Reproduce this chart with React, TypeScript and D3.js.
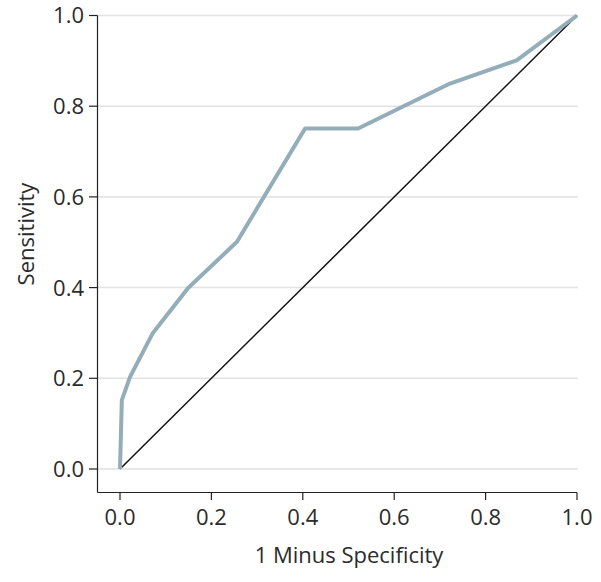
import { scaleLinear, line } from "d3";

// ROC curve, sensitivity vs 1 - specificity

const FPR = [0, 0.004, 0.022, 0.072, 0.149, 0.256, 0.405, 0.521, 0.722, 0.868, 1];
const TPR = [0, 0.152, 0.203, 0.3, 0.399, 0.501, 0.751, 0.751, 0.85, 0.901, 1];
const TICKS = [0, 0.2, 0.4, 0.6, 0.8, 1.0];
const REFERENCE = [0, 1];

const WIDTH = 601;
const HEIGHT = 582;
const FONT = "'Open Sans', sans-serif";
const TEXT_COLOR = "#2b2b2b";

const x = scaleLinear().domain([0, 1]).range([120, 577]);
const y = scaleLinear().domain([0, 1]).range([469, 15.5]);

const axisLeft = 97.5;
const axisBottom = 492.5;

const App = () => {
  const points = FPR.map((f, i) => [f, TPR[i]] as [number, number]);
  const roc = line<[number, number]>()
    .x((d) => x(d[0]))
    .y((d) => y(d[1]))(points);
  const diag = line<number>()
    .x((d) => x(d))
    .y((d) => y(d))(REFERENCE);

  return (
    <svg
      width={WIDTH}
      height={HEIGHT}
      style={{ position: "absolute", left: 0, top: 0, background: "#fff" }}
    >
      {/* gridlines */}
      {TICKS.map((t) => (
        <line
          key={"g" + t}
          x1={axisLeft}
          x2={x(1) + 1}
          y1={y(t)}
          y2={y(t)}
          stroke="#e2e2e2"
          strokeWidth={1.5}
        />
      ))}

      {/* axes */}
      <line x1={axisLeft} x2={axisLeft} y1={y(1)} y2={axisBottom} stroke="#222" strokeWidth={1.2} />
      <line x1={axisLeft} x2={x(1)} y1={axisBottom} y2={axisBottom} stroke="#222" strokeWidth={1.2} />

      {TICKS.map((t) => (
        <g key={"y" + t}>
          <line x1={89} x2={axisLeft} y1={y(t)} y2={y(t)} stroke="#222" strokeWidth={1.2} />
          <text
            x={84}
            y={y(t)}
            dy="0.36em"
            textAnchor="end"
            fontFamily={FONT}
            fontSize={22}
            fill={TEXT_COLOR}
          >
            {t.toFixed(1)}
          </text>
        </g>
      ))}

      {TICKS.map((t) => (
        <g key={"x" + t}>
          <line x1={x(t)} x2={x(t)} y1={axisBottom} y2={500} stroke="#222" strokeWidth={1.2} />
          <text
            x={x(t)}
            y={525}
            textAnchor="middle"
            fontFamily={FONT}
            fontSize={22}
            fill={TEXT_COLOR}
          >
            {t.toFixed(1)}
          </text>
        </g>
      ))}

      {/* reference line */}
      <path d={diag ?? ""} fill="none" stroke="#111" strokeWidth={1.5} />

      {/* ROC curve */}
      <path
        d={roc ?? ""}
        fill="none"
        stroke="#93adb9"
        strokeWidth={4}
        strokeLinejoin="round"
      />

      {/* axis titles */}
      <text
        x={349}
        y={563}
        textAnchor="middle"
        fontFamily={FONT}
        fontSize={22}
        fill={TEXT_COLOR}
      >
        1 Minus Specificity
      </text>
      <text
        transform="translate(34, 234) rotate(-90)"
        textAnchor="middle"
        fontFamily={FONT}
        fontSize={22}
        fill={TEXT_COLOR}
      >
        Sensitivity
      </text>
    </svg>
  );
};

export default App;
